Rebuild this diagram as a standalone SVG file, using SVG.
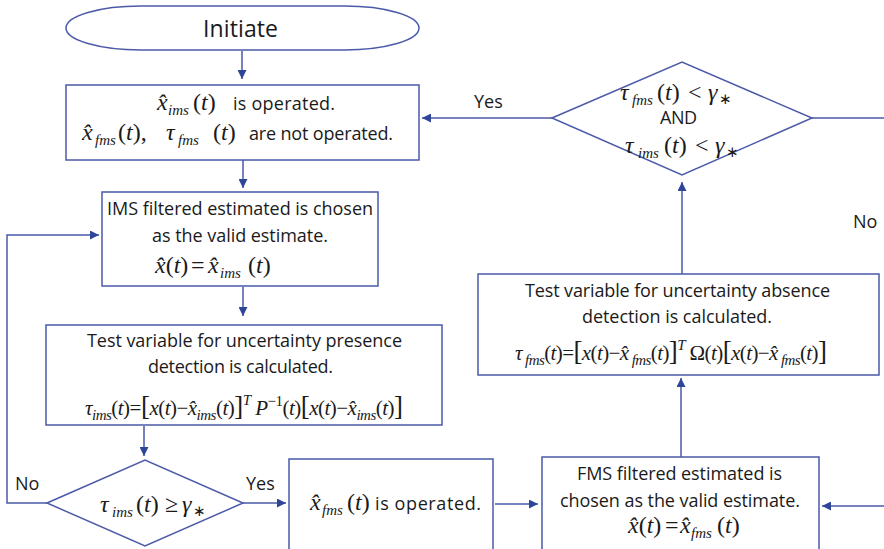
<svg xmlns="http://www.w3.org/2000/svg" width="884" height="549" viewBox="0 0 884 549">
<style>
.shape{fill:#fff;stroke:#4a5aa8;stroke-width:1.5}
.ln{fill:none;stroke:#4a5aa8;stroke-width:1.5}
.t{font-family:"Open Sans","Noto Sans",sans-serif;font-size:18px;fill:#1a1a1a}
.lbl{font-family:"Open Sans","Noto Sans",sans-serif;font-size:18px;fill:#1a1a1a}
.m{font-family:"Liberation Serif","Times New Roman",serif;font-size:24px;fill:#1a1a1a}
.f{font-size:21px}
.i{font-style:italic}
.s{font-size:15px;font-style:italic}
.b{font-size:27px}
.st{font-size:15px}
</style>
<defs>
<marker id="ah" viewBox="0 0 10 10" refX="10" refY="5" markerWidth="11" markerHeight="9" markerUnits="userSpaceOnUse" orient="auto">
<path d="M0,0 L10,5 L0,10 z" fill="#2f4598"/>
</marker>
</defs>
<rect width="884" height="549" fill="#fff"/>

<g id="connectors">
<path class="ln" d="M242,51 L242,79" marker-end="url(#ah)"/>
<path class="ln" d="M243,160 L243,188" marker-end="url(#ah)"/>
<path class="ln" d="M243,287 L243,316" marker-end="url(#ah)"/>
<path class="ln" d="M144,426 L144,456" marker-end="url(#ah)"/>
<path class="ln" d="M47,503 L7,503 L7,235 L99,235" marker-end="url(#ah)"/>
<path class="ln" d="M243,503 L286,503" marker-end="url(#ah)"/>
<path class="ln" d="M495,504 L538,504" marker-end="url(#ah)"/>
<path class="ln" d="M884,506 L822,506" marker-end="url(#ah)"/>
<path class="ln" d="M681,458 L681,378" marker-end="url(#ah)"/>
<path class="ln" d="M682,274 L682,182" marker-end="url(#ah)"/>
<path class="ln" d="M552,118 L422,118" marker-end="url(#ah)"/>
<path class="ln" d="M812,118 L884,118"/>
<text class="lbl" x="474" y="108">Yes</text>
<text class="lbl" x="853" y="228">No</text>
<text class="lbl" x="15" y="490">No</text>
<text class="lbl" x="246" y="490">Yes</text>
</g>

<g id="initiate">
<rect class="shape" x="66" y="6" width="353" height="44" rx="75" ry="22"/>
<text class="t" x="203" y="37" style="font-size:23px" textLength="75">Initiate</text>
</g>

<g id="box-ims-operated">
<rect class="shape" x="66" y="85" width="353" height="75"/>
<text class="m"><tspan class="i" x="157" y="110">x̂</tspan><tspan class="s" x="168" y="115">ims</tspan><tspan x="193" y="110">(</tspan><tspan class="i">t</tspan><tspan>)</tspan></text>
<text class="t" x="233" y="110" textLength="102">is operated.</text>
<text class="m"><tspan class="i" x="82" y="140">x̂</tspan><tspan class="s" x="95" y="145">fms</tspan><tspan x="118" y="140">(</tspan><tspan class="i">t</tspan><tspan>),</tspan><tspan class="i" x="166" y="140">τ</tspan><tspan class="s" x="178" y="145">fms</tspan><tspan x="213" y="140">(</tspan><tspan class="i">t</tspan><tspan>)</tspan></text>
<text class="t" x="249" y="140" textLength="144">are not operated.</text>
</g>

<g id="box-ims-valid">
<rect class="shape" x="102" y="192" width="276" height="94"/>
<text class="t" x="107" y="215" textLength="266">IMS filtered estimated is chosen</text>
<text class="t" x="152" y="242" textLength="176">as the valid estimate.</text>
<text class="m"><tspan class="i" x="155" y="273">x̂</tspan><tspan>(</tspan><tspan class="i">t</tspan><tspan>)</tspan><tspan x="191" y="273">=</tspan><tspan class="i" x="208" y="273">x̂</tspan><tspan class="s" x="220" y="278">ims</tspan><tspan x="248" y="273">(</tspan><tspan class="i">t</tspan><tspan>)</tspan></text>
</g>

<g id="box-presence-test">
<rect class="shape" x="46" y="325" width="396" height="100"/>
<text class="t" x="87" y="347" textLength="315">Test variable for uncertainty presence</text>
<text class="t" x="148" y="373" textLength="185">detection is calculated.</text>
<text class="m f" x="85" y="415" textLength="318" lengthAdjust="spacing"><tspan class="i">τ</tspan><tspan class="s" dy="5">ims</tspan><tspan dy="-5">(</tspan><tspan class="i">t</tspan><tspan>)=</tspan><tspan class="b">[</tspan><tspan class="i">x</tspan><tspan>(</tspan><tspan class="i">t</tspan><tspan>)−</tspan><tspan class="i">x̂</tspan><tspan class="s" dy="5">ims</tspan><tspan dy="-5">(</tspan><tspan class="i">t</tspan><tspan>)</tspan><tspan class="b">]</tspan><tspan class="s" dy="-10">T</tspan><tspan class="i" dy="10"> P</tspan><tspan class="st" dy="-9">−1</tspan><tspan dy="9">(</tspan><tspan class="i">t</tspan><tspan>)</tspan><tspan class="b">[</tspan><tspan class="i">x</tspan><tspan>(</tspan><tspan class="i">t</tspan><tspan>)−</tspan><tspan class="i">x̂</tspan><tspan class="s" dy="5">ims</tspan><tspan dy="-5">(</tspan><tspan class="i">t</tspan><tspan>)</tspan><tspan class="b">]</tspan></text>
</g>

<g id="decision-presence">
<polygon class="shape" points="47,503 145,460 243,503 145,546"/>
<text class="m"><tspan class="i" x="100" y="512">τ</tspan><tspan class="s" x="112" y="517">ims</tspan><tspan x="136" y="512">(</tspan><tspan class="i">t</tspan><tspan>)</tspan><tspan x="165" y="512">≥</tspan><tspan class="i" x="182" y="512">γ</tspan><tspan class="st" x="193" y="516">∗</tspan></text>
</g>

<g id="box-fms-operated">
<rect class="shape" x="289" y="459" width="204" height="100"/>
<text class="m"><tspan class="i" x="310" y="510">x̂</tspan><tspan class="s" x="322" y="515">fms</tspan><tspan x="347" y="510">(</tspan><tspan class="i">t</tspan><tspan>)</tspan></text>
<text class="t" x="375" y="510" textLength="106">is operated.</text>
</g>

<g id="box-fms-valid">
<rect class="shape" x="542" y="457" width="277" height="100"/>
<text class="t" x="577" y="480" textLength="205">FMS filtered estimated is</text>
<text class="t" x="560" y="507" textLength="240">chosen as the valid estimate.</text>
<text class="m"><tspan class="i" x="628" y="533">x̂</tspan><tspan>(</tspan><tspan class="i">t</tspan><tspan>)</tspan><tspan x="665" y="533">=</tspan><tspan class="i" x="680" y="533">x̂</tspan><tspan class="s" x="691" y="538">fms</tspan><tspan x="717" y="533">(</tspan><tspan class="i">t</tspan><tspan>)</tspan></text>
</g>

<g id="box-absence-test">
<rect class="shape" x="478" y="274" width="401" height="101"/>
<text class="t" x="525" y="297" textLength="305">Test variable for uncertainty absence</text>
<text class="t" x="582" y="323" textLength="190">detection is calculated.</text>
<text class="m f" x="515" y="360" textLength="312" lengthAdjust="spacing"><tspan class="i">τ</tspan><tspan class="s" dy="5"> fms</tspan><tspan dy="-5">(</tspan><tspan class="i">t</tspan><tspan>)=</tspan><tspan class="b">[</tspan><tspan class="i">x</tspan><tspan>(</tspan><tspan class="i">t</tspan><tspan>)−</tspan><tspan class="i">x̂</tspan><tspan class="s" dy="5"> fms</tspan><tspan dy="-5">(</tspan><tspan class="i">t</tspan><tspan>)</tspan><tspan class="b">]</tspan><tspan class="s" dy="-10">T</tspan><tspan dy="10"> Ω(</tspan><tspan class="i">t</tspan><tspan>)</tspan><tspan class="b">[</tspan><tspan class="i">x</tspan><tspan>(</tspan><tspan class="i">t</tspan><tspan>)−</tspan><tspan class="i">x̂</tspan><tspan class="s" dy="5"> fms</tspan><tspan dy="-5">(</tspan><tspan class="i">t</tspan><tspan>)</tspan><tspan class="b">]</tspan></text>
</g>

<g id="decision-absence">
<polygon class="shape" points="552,118 682,62 812,118 682,175"/>
<text class="m"><tspan class="i" x="620" y="100">τ</tspan><tspan class="s" x="632" y="105">fms</tspan><tspan x="657" y="100">(</tspan><tspan class="i">t</tspan><tspan>)</tspan><tspan x="688" y="100">&lt;</tspan><tspan class="i" x="708" y="100">γ</tspan><tspan class="st" x="719" y="104">∗</tspan></text>
<text class="t" x="660" y="124" textLength="37">AND</text>
<text class="m"><tspan class="i" x="625" y="153">τ</tspan><tspan class="s" x="638" y="158">ims</tspan><tspan x="664" y="153">(</tspan><tspan class="i">t</tspan><tspan>)</tspan><tspan x="695" y="153">&lt;</tspan><tspan class="i" x="715" y="153">γ</tspan><tspan class="st" x="726" y="157">∗</tspan></text>
</g>
</svg>
